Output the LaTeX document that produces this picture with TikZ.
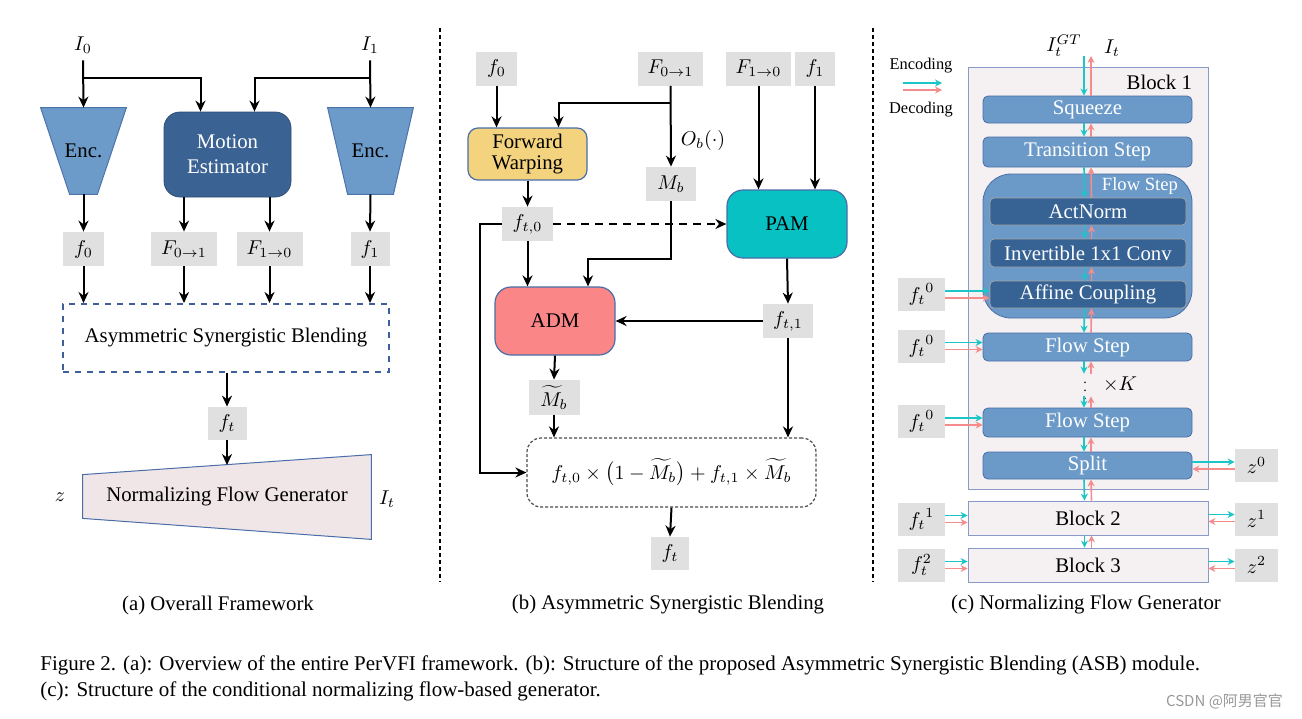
\documentclass[tikz,border=0pt]{standalone}
\usepackage{fontspec}
\setmainfont{Liberation Serif}
\newfontfamily\cjk{Noto Sans CJK SC}
\usetikzlibrary{arrows.meta,calc}
\definecolor{featgray}{HTML}{E0E0E0}
\definecolor{encblue}{HTML}{6C9BC9}
\definecolor{encline}{HTML}{4C74AB}
\definecolor{meblue}{HTML}{3A6292}
\definecolor{asbblue}{HTML}{3F5F9A}
\definecolor{nfgpink}{HTML}{F0E6E8}
\definecolor{fwyellow}{HTML}{F3D37E}
\definecolor{pamcyan}{HTML}{08C1C3}
\definecolor{admred}{HTML}{FB8688}
\definecolor{boxline}{HTML}{4A6EA8}
\definecolor{enccol}{HTML}{1DC6C6}
\definecolor{deccol}{HTML}{F58C8C}
\definecolor{blkfill}{HTML}{F5F0F2}
\definecolor{blkline}{HTML}{8A9AC8}
\definecolor{nfblue}{HTML}{6B9AC8}
\definecolor{nfdark}{HTML}{376394}
\tikzstyle{feat}=[fill=featgray,inner sep=0pt,minimum height=17pt]
\tikzstyle{arr}=[-{Stealth[length=5.5pt,width=5pt]},line width=1pt]
\tikzstyle{encarr}=[-{Stealth[length=3.5pt,width=3.5pt]},line width=0.8pt,draw=enccol]
\tikzstyle{decarr}=[-{Stealth[length=3.5pt,width=3.5pt]},line width=0.8pt,draw=deccol]
\tikzstyle{module}=[draw=boxline,line width=0.6pt,rounded corners=5pt,align=center]
\tikzstyle{nfbox}=[draw=boxline,fill=nfblue,rounded corners=2.5pt,text=white,minimum width=104.5pt,inner sep=0pt]
\tikzstyle{nfin}=[draw=gray!70,fill=nfdark,rounded corners=2pt,text=white,minimum width=98pt,inner sep=0pt]
\tikzstyle{blk}=[draw=blkline,fill=blkfill,minimum width=120pt,minimum height=17pt,inner sep=0pt]

\begin{document}
\begin{tikzpicture}[x=0.5pt,y=-0.5pt,font=\fontsize{10.4}{12.5}\selectfont]
\useasboundingbox[fill=white] (0,0) rectangle (1302,718);

% separators
\draw[dash pattern=on 2pt off 1.5pt,line width=0.6pt] (440,28) -- (440,582);
\draw[dash pattern=on 2pt off 1.5pt,line width=0.6pt] (873,28) -- (873,582);

% (a) overall framework
\node (i0) at (83,45) {$I_0$};
\node (i1) at (370,45) {$I_1$};
\node[minimum width=42.5pt,minimum height=43pt] (encl) at (83.5,151) {};
\node[minimum width=42.5pt,minimum height=43pt] (encr) at (370.5,151) {};
\draw[fill=encblue,draw=encline,line width=0.5pt] (encl.north west) -- (encl.north east) -- ($(encl.south east)+(-29,0)$) -- ($(encl.south west)+(29,0)$) -- cycle;
\draw[fill=encblue,draw=encline,line width=0.5pt] (encr.north west) -- (encr.north east) -- ($(encr.south east)+(-20,0)$) -- ($(encr.south west)+(20,0)$) -- cycle;
\node at (encl) {Enc.};
\node at (encr) {Enc.};
\node[fill=meblue,draw=meblue!80!black,rounded corners=8pt,text=white,align=center,
      minimum width=63.5pt,minimum height=42.5pt] (me) at (227.5,154.5) {Motion\\Estimator};
\coordinate (br0) at (83,78);
\coordinate (br1) at (370,78);
\draw[arr] (i0.south) -- (encl.north);
\draw[arr] (i1.south) -- (encr.north);
\draw[arr] (br0) -| ($(me.north)+(-27,0)$);
\draw[arr] (br1) -| ($(me.north)+(27,0)$);

\node[feat,minimum width=20.5pt] (f0) at (83.5,249) {$f_0$};
\node[feat,minimum width=33pt] (f01) at (184,249) {$F_{0\rightarrow1}$};
\node[feat,minimum width=33pt] (f10) at (269.5,249) {$F_{1\rightarrow0}$};
\node[feat,minimum width=19.5pt] (f1) at (370,249) {$f_1$};
\draw[arr] (encl.south) -- (f0.north);
\draw[arr] (encr.south) -- (f1.north);
\draw[arr] (me.south -| f01.north) -- (f01.north);
\draw[arr] (me.south -| f10.north) -- (f10.north);

\node[draw=asbblue,dashed,line width=1pt,minimum width=163pt,minimum height=34pt] (asb) at (226,338) {Asymmetric Synergistic Blending};
\foreach \n in {f0,f01,f10,f1}
  \draw[arr] (\n.south) -- (\n.south |- asb.north);

\node[feat,minimum width=19.5pt,minimum height=16.5pt] (ft) at (227,423.5) {$f_t$};
\draw[arr] (asb.south -| ft.north) -- (ft.north);
\node[minimum width=144pt,minimum height=42pt] (nfg) at (227,497) {};
\draw[fill=nfgpink,draw=boxline,line width=0.5pt] ($(nfg.north west)+(0,20)$) -- (nfg.north east) -- (nfg.south east) -- ($(nfg.south west)+(0,-21)$) -- cycle;
\node at (nfg) {Normalizing Flow Generator};
\coordinate (nfgtop) at (227,465);
\draw[arr] (ft.south) -- (nfgtop);
\node (z) at (60,497) {$z$};
\node (it) at (387,499) {$I_t$};
\node (capa) at (218,605) {(a) Overall Framework};

% (b) asymmetric synergistic blending
\node[feat,minimum width=20.5pt] (bf0) at (496.5,68.5) {$f_0$};
\node[feat,minimum width=32.5pt] (bF01) at (670.5,68.5) {$F_{0\rightarrow1}$};
\node[feat,minimum width=32.5pt] (bF10) at (758.5,68.5) {$F_{1\rightarrow0}$};
\node[feat,minimum width=20pt] (bf1) at (815,68.5) {$f_1$};
\node[module,fill=fwyellow,minimum width=59.5pt,minimum height=26pt,inner sep=0pt] (fw) at (527.5,154) {Forward\\[-2pt]Warping};
\node[feat,minimum width=25pt] (mb) at (671,184) {$M_b$};
\node[feat,minimum width=25.5pt] (ft0) at (527.5,224) {$f_{t,0}$};
\node[module,fill=pamcyan,rounded corners=8pt,minimum width=60pt,minimum height=34pt] (pam) at (787,224) {PAM};
\node[module,fill=admred,rounded corners=8pt,minimum width=60pt,minimum height=34pt] (adm) at (555,321) {ADM};
\node[feat,minimum width=25pt] (ft1) at (788,321) {$f_{t,1}$};
\node[feat,minimum width=25.5pt,minimum height=17.5pt] (mtil) at (554,397.5) {$\widetilde{M}_b$};
\node[draw=black!70,dash pattern=on 1.5pt off 1pt,line width=0.6pt,rounded corners=7pt,
      minimum width=144.5pt,minimum height=34.5pt] (blend) at (671.5,472.5)
      {$f_{t,0}\times\bigl(1-\widetilde{M}_b\bigr)+f_{t,1}\times\widetilde{M}_b$};
\node[feat,minimum width=19pt,minimum height=16.5pt] (bft) at (670,553.5) {$f_t$};
\node (ob) at (703,140) {$O_b(\cdot)$};

\coordinate (s01) at (670.5,103);
\coordinate (mbturn) at (671,259);
\coordinate (lturn) at (480,224);
\draw[arr] (bf0.south) -- (bf0.south |- fw.north);
\draw[arr] (bF01.south) -- (mb.north);
\draw[arr] (s01) -| ($(fw.north)+(31,0)$);
\draw[arr] (bF10.south) -- (bF10.south |- pam.north);
\draw[arr] (bf1.south) -- (bf1.south |- pam.north);
\draw[arr] (fw.south) -- (ft0.north);
\draw[arr,dash pattern=on 4pt off 3pt] (ft0.east) -- (pam.west);
\draw[arr] (mb.south) -- (mbturn) -| ($(adm.north)+(33,0)$);
\draw[arr] (ft0.south) -- (ft0.south |- adm.north);
\draw[arr] (pam.south) -- (ft1.north);
\draw[arr] (ft1.west) -- (ft1.west -| adm.east);
\draw[arr] (ft1.south) -- (ft1.south |- blend.north);
\draw[arr] (ft0.west) -- (lturn) |- (blend.west);
\draw[arr] (adm.south) -- (mtil.north);
\draw[arr] (mtil.south) -- (mtil.south |- blend.north);
\draw[arr] (blend.south) -- (bft.north);
\node (capb) at (668,605) {(b) Asymmetric Synergistic Blending};

% (c) normalizing flow generator
\node[blk,minimum height=211pt] (blk1) at (1088,278) {};
\node[anchor=east] (b1lab) at (1199,82) {Block 1};
\node[nfbox,minimum height=13.5pt] (sq) at (1087.5,109.5) {Squeeze};
\node[nfbox,minimum height=15pt] (tr) at (1087.5,152) {Transition Step};
\node[nfbox,rounded corners=14pt,minimum height=72pt] (fsb) at (1087.5,246) {};
\node[anchor=east,text=white,font=\fontsize{9.3}{11}\selectfont] (fslab) at (1185,186) {Flow Step};
\node[nfin,minimum height=13.5pt] (an) at (1088,211.5) {ActNorm};
\node[nfin,minimum height=14pt] (inv) at (1088,253) {Invertible 1x1 Conv};
\node[nfin,minimum height=13.5pt] (aff) at (1088,294.5) {Affine Coupling};
\node[nfbox,minimum height=14pt] (fs2) at (1087.5,347) {Flow Step};
\node[nfbox,minimum height=14.5pt] (fs3) at (1087.5,422.5) {Flow Step};
\node[nfbox,minimum height=13.5pt] (split) at (1087.5,465.5) {Split};
\node[blk] (blk2) at (1088,518) {Block 2};
\node[blk] (blk3) at (1088,565) {Block 3};
\node[inner sep=0pt,font=\fontsize{7}{8}\selectfont] (dots) at (1085,385) {$\vdots$};
\node (xk) at (1120,384) {$\times K$};
\node[inner sep=0pt,minimum size=0pt] (dt) at (1087.5,374) {};
\node[inner sep=0pt,minimum size=0pt] (db) at (1087.5,396) {};

\node (igt) at (1064,46) {$I_t^{GT}$};
\node (itc) at (1112,48) {$I_t$};
\coordinate (tin) at (1084,56);
\coordinate (tout) at (1091,56);
\draw[encarr] (tin) -- ([xshift=-1.75pt]sq.north);
\draw[decarr] ([xshift=1.75pt]sq.north) -- (tout);
\foreach \a/\b in {sq/tr,tr/an,an/inv,inv/aff,aff/fs2,fs2/dt,db/fs3,fs3/split,split/blk2,blk2/blk3} {
  \draw[encarr] ([xshift=-1.75pt]\a.south) -- ([xshift=-1.75pt]\b.north);
  \draw[decarr] ([xshift=1.75pt]\b.north) -- ([xshift=1.75pt]\a.south);
}

\node[feat,minimum width=23.5pt,minimum height=16.5pt] (c0a) at (921.5,294.5) {${f_t}^{0}$};
\node[feat,minimum width=23.5pt,minimum height=16.5pt] (c0b) at (921.5,346) {${f_t}^{0}$};
\node[feat,minimum width=23.5pt,minimum height=16.5pt] (c0c) at (921.5,421.5) {${f_t}^{0}$};
\node[feat,minimum width=23.5pt,minimum height=16.5pt] (c1) at (921.5,519) {${f_t}^{1}$};
\node[feat,minimum width=23.5pt,minimum height=16.5pt] (c2) at (921.5,565) {$f_t^{2}$};
\foreach \f/\t in {c0a/aff,c0b/fs2,c0c/fs3,c1/blk2,c2/blk3} {
  \draw[encarr] ([yshift=1.75pt]\f.east) -- ([yshift=1.75pt]\f.east -| \t.west);
  \draw[decarr] ([yshift=-1.75pt]\f.east) -- ([yshift=-1.75pt]\f.east -| \t.west);
}
\node[feat,minimum width=21.5pt,minimum height=16.5pt] (z0) at (1256.5,465.5) {$z^{0}$};
\node[feat,minimum width=21.5pt,minimum height=16.5pt] (z1) at (1256.5,519) {$z^{1}$};
\node[feat,minimum width=21.5pt,minimum height=16.5pt] (z2) at (1256.5,565) {$z^{2}$};
\foreach \s/\z in {split/z0,blk2/z1,blk3/z2} {
  \draw[encarr] ([yshift=1.75pt]\s.east) -- ([yshift=1.75pt]\s.east -| \z.west);
  \draw[decarr] ([yshift=-1.75pt]\s.east -| \z.west) -- ([yshift=-1.75pt]\s.east);
}

% legend
\node[font=\fontsize{8.2}{10}\selectfont] (lenc) at (921,66) {Encoding};
\node[font=\fontsize{8.2}{10}\selectfont] (ldec) at (921,110) {Decoding};
\coordinate (le1) at (903,83);
\coordinate (le2) at (942,83);
\coordinate (ld1) at (903,90);
\coordinate (ld2) at (942,90);
\draw[encarr] (le1) -- (le2);
\draw[decarr] (ld1) -- (ld2);
\node (capc) at (1086,605) {(c) Normalizing Flow Generator};

% figure caption
\node[anchor=north west,align=left,inner sep=0pt,font=\fontsize{10.5}{13}\selectfont] (cap) at (40,655)
  {Figure 2. (a): Overview of the entire PerVFI framework. (b): Structure of the proposed Asymmetric Synergistic Blending (ASB) module.\\
   (c): Structure of the conditional normalizing flow-based generator.};
\node[anchor=east,text=gray!80,font=\cjk\fontsize{7.5}{9}\selectfont] (wm) at (1290,701) {CSDN @阿男官官};
\end{tikzpicture}
\end{document}
